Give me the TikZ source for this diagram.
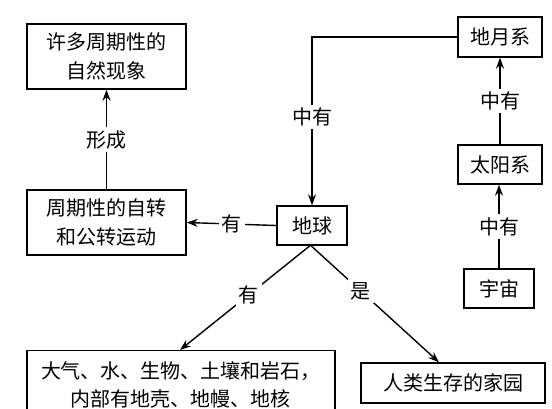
\documentclass[tikz,border=0pt]{standalone}
\usepackage{fontspec}
\setmainfont{Noto Sans CJK SC}
\usetikzlibrary{arrows.meta,calc}
\begin{document}
\begin{tikzpicture}[x=1pt,y=-1pt,
  font=\fontsize{20}{28.5}\selectfont,
  box/.style={draw,line width=1.4pt,inner sep=0pt,align=center},
  conn/.style={line width=1.4pt,-{Stealth[length=11pt,width=8pt]}},
  lab/.style={fill=white,inner sep=3pt}]
\useasboundingbox (0,0) rectangle (552,408);
\node[box,minimum width=159pt,minimum height=65pt] (xz) at (106.5,56.5) {许多周期性的\\自然现象};
\node[box,minimum width=159pt,minimum height=65pt] (zq) at (106.5,222.5) {周期性的自转\\和公转运动};
\node[box,minimum width=70pt,minimum height=39pt] (dq) at (312,225.5) {地球};
\node[box,minimum width=84pt,minimum height=40pt] (dy) at (500,37) {地月系};
\node[box,minimum width=84pt,minimum height=39pt] (ty) at (500,164.5) {太阳系};
\node[box,minimum width=70pt,minimum height=39pt] (yz) at (499,288.5) {宇宙};
\node[box,minimum width=308pt,minimum height=68pt,anchor=north] (dl) at (181,350) {大气、水、生物、土壤和岩石，\\内部有地壳、地幔、地核};
\node[box,minimum width=184pt,minimum height=40pt] (rl) at (453,383) {人类生存的家园};
\draw[conn] (zq.north) -- node[lab] {形成} (xz.south);
\draw[conn] (dq.west) -- node[lab] {有} (zq.east);
\draw[conn] (dy.west) -| node[lab,pos=0.737] {中有} (dq.north);
\draw[conn] (ty.north) -- node[lab] {中有} (dy.south);
\draw[conn] (yz.north) -- node[lab] {中有} (yz.north |- ty.south);
\draw[conn] ([xshift=-2pt]dq.south) -- node[lab,pos=0.47] {有} ([xshift=-1pt]dl.north);
\draw[conn] ([xshift=-1pt]dq.south) -- node[lab,pos=0.39] {是} ([xshift=-14pt]rl.north);
\end{tikzpicture}
\end{document}
